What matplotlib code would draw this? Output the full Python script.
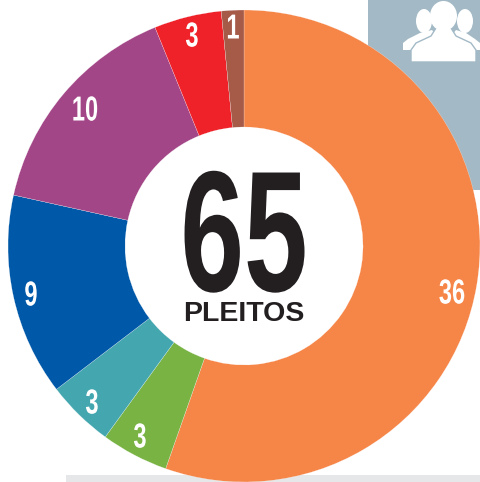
# -*- coding: utf-8 -*-
import matplotlib
matplotlib.use('Agg')
import matplotlib.pyplot as plt
from matplotlib.patches import Rectangle, Ellipse, Polygon
from matplotlib.patheffects import AbstractPathEffect
from matplotlib.transforms import Affine2D

# dados
values = [36, 3, 3, 9, 10, 3, 1]
colors = ['#F68548', '#78B344', '#44A7B0', '#0058A8', '#A34687', '#EF2129', '#A65A48']
total_label = '65'
unit_label = 'PLEITOS'

# posicao dos rotulos em pixels
label_x = [452, 140, 92, 31, 85, 192, 233]
label_y = [294, 438, 404, 296, 111, 37, 29]

HEIGHT = 482
BLUE_GRAY = '#A3BAC6'


class Squeeze(AbstractPathEffect):
    """ estreita o texto em torno de cx, a fonte condensada ainda e larga """
    def __init__(self, cx, sx):
        self.cx = cx
        self.sx = sx

    def draw_path(self, renderer, gc, tpath, affine, rgbFace=None):
        squeeze = Affine2D().translate(-self.cx, 0).scale(self.sx, 1).translate(self.cx, 0)
        renderer.draw_path(gc, tpath, affine + squeeze, rgbFace)


def cond_text(x, y, s, size, sx, color, va='center'):
    ax.text(x, HEIGHT - y, s, fontsize=size, color=color, weight='bold',
            family=['Liberation Sans Narrow', 'Liberation Sans'], ha='center', va=va,
            path_effects=[Squeeze(x, sx)], zorder=6)


def person(body, head_xy, head_w, head_h, ec, zorder):
    pts = [(x, HEIGHT - y) for x, y in body]
    ax.add_patch(Polygon(pts, closed=True, fc='white', ec=ec, lw=1, joinstyle='round', zorder=zorder))
    ax.add_patch(Ellipse((head_xy[0], HEIGHT - head_xy[1]), head_w, head_h, fc='white', ec='none', zorder=zorder))


fig = plt.figure(figsize=(4.8, 4.82), dpi=100)
ax = fig.add_axes([0, 0, 1, 1])

# fundos
ax.add_patch(Rectangle((368, HEIGHT - 190), 112, 190, fc=BLUE_GRAY, ec='none', zorder=0))
ax.add_patch(Rectangle((66, 0), 414, 7, fc='#E6E7E8', ec='none', zorder=0))

# icone de pessoas
person([(403, 50), (403, 43), (408, 39), (420, 33), (432, 30), (440, 40), (416, 50)], (424, 21), 16, 24, 'none', 1)
person([(480, 50), (480, 43), (475, 39), (466, 33), (456, 30), (448, 40), (470, 50)], (465, 21), 16, 24, 'none', 1)
person([(411, 62), (411, 50), (416, 43), (431, 36), (436, 28), (451, 28), (456, 36), (471, 43), (476, 50), (476, 62)],
       (443.5, 16), 27, 30, BLUE_GRAY, 2)

# rosca
wedges, _ = ax.pie(values, colors=colors, startangle=90, counterclock=False,
                   center=(244, HEIGHT - 246), radius=236,
                   wedgeprops=dict(width=117, edgecolor='white', linewidth=0.15))
for w in wedges:
    w.set_zorder(3)

for x, y, v in zip(label_x, label_y, values):
    cond_text(x, y, str(v), 25, 0.68, 'white')

cond_text(244, 291, total_label, 124, 0.665, '#231F20', va='baseline')
ax.text(244, HEIGHT - 314, unit_label, fontsize=20.5, color='#231F20', weight='bold',
        family='Liberation Sans', ha='center', va='center', zorder=6)

ax.set_xlim(0, 480)
ax.set_ylim(0, HEIGHT)
ax.axis('off')
fig.savefig('out.png', dpi=100)
